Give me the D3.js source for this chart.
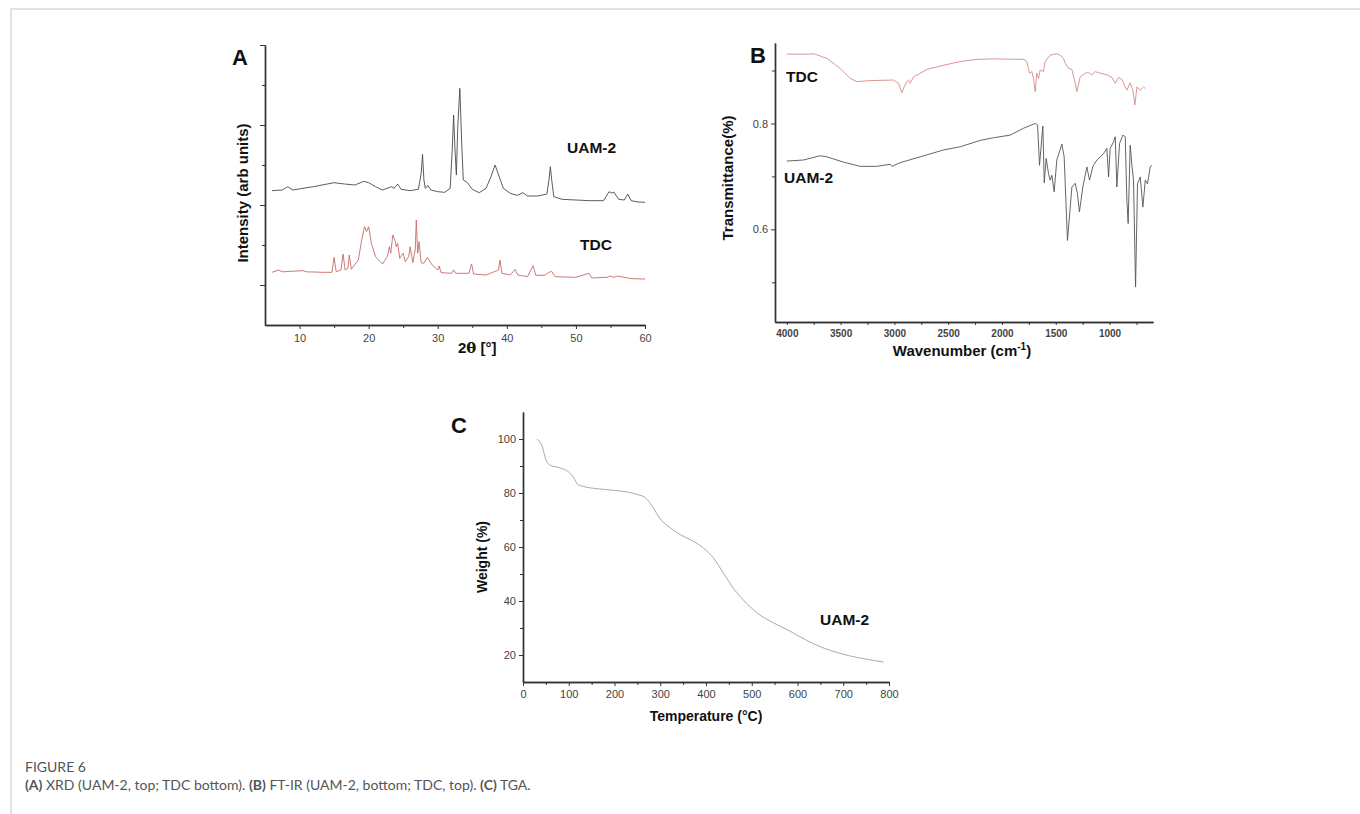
<!DOCTYPE html>
<html>
<head>
<meta charset="utf-8">
<script src="https://cdn.jsdelivr.net/npm/d3@7"></script>
<style>
  body { margin: 0; background: #fff; }
  text { font-family: "Liberation Sans", Arial, sans-serif; }
  .cap { font-family: Lato, "Open Sans", sans-serif; fill: #555; }
</style>
</head>
<body>
<div id="chart"></div>
<script>
// (A) XRD, 2theta in degrees vs intensity (arbitrary units)
const xrdUam2 = [
  [6, 3.358], [7.5, 3.375], [8.3, 3.458], [9, 3.375], [10.5, 3.417], [12, 3.458],
  [14, 3.525], [15, 3.558], [16.5, 3.525], [18, 3.5], [19.3, 3.592], [20, 3.558],
  [21, 3.458], [22, 3.375], [23.3, 3.458], [23.7, 3.417], [24.2, 3.525], [24.7, 3.392],
  [26, 3.358], [27.2, 3.392], [27.6, 3.792], [27.8, 4.267], [28.0, 3.625], [28.2, 3.417],
  [28.6, 3.483], [29, 3.375], [30, 3.333], [31, 3.317], [31.8, 3.417], [32.1, 4.375],
  [32.3, 5.25], [32.5, 4.375], [32.7, 3.75], [32.9, 4.958], [33.2, 5.917], [33.45, 4.625],
  [33.7, 3.625], [34.3, 3.558], [35, 3.392], [36, 3.308], [37, 3.417], [37.7, 3.708],
  [38.3, 4.0], [38.9, 3.708], [39.5, 3.417], [40.5, 3.292], [41.5, 3.24], [42.3, 3.308],
  [43, 3.225], [44.5, 3.225], [45.8, 3.275], [46.1, 3.625], [46.3, 3.958], [46.5, 3.625],
  [46.8, 3.208], [48, 3.142], [50, 3.125], [52, 3.108], [54, 3.108], [54.8, 3.333],
  [55.2, 3.3], [55.5, 3.32], [56.2, 3.142], [57, 3.125], [57.5, 3.275], [58, 3.108],
  [59, 3.075], [60, 3.067]
];
const xrdTdc = [
  [6, 1.317], [7, 1.375], [7.5, 1.33], [10.5, 1.358], [11, 1.33], [13.5, 1.317],
  [14.7, 1.317], [15.0, 1.692], [15.3, 1.333], [16.0, 1.375], [16.3, 1.775], [16.6, 1.375],
  [17.0, 1.417], [17.2, 1.75], [17.5, 1.392], [18.5, 1.625], [19.0, 2.125], [19.4, 2.458],
  [19.7, 2.333], [20.0, 2.458], [20.4, 2.042], [21, 1.708], [22, 1.525], [22.7, 1.708],
  [23.0, 1.958], [23.2, 1.792], [23.5, 2.25], [23.8, 2.125], [24.0, 1.958], [24.2, 2.042],
  [24.5, 1.667], [25.0, 1.792], [25.3, 1.583], [25.8, 1.708], [26.0, 1.958], [26.4, 1.558],
  [26.75, 1.9], [26.9, 2.625], [27.1, 1.792], [27.3, 2.083], [27.6, 1.558], [28.0, 1.542],
  [28.5, 1.692], [29.2, 1.5], [30.0, 1.375], [30.2, 1.475], [30.5, 1.308], [32.0, 1.292],
  [32.3, 1.375], [32.6, 1.292], [34.5, 1.292], [34.9, 1.525], [35.2, 1.275], [37, 1.25],
  [38.8, 1.375], [39.0, 1.625], [39.3, 1.292], [40.5, 1.25], [41.2, 1.392], [41.6, 1.25],
  [43, 1.208], [43.8, 1.483], [44.2, 1.242], [45.5, 1.242], [46.0, 1.308], [46.5, 1.342],
  [47, 1.208], [50, 1.192], [51.9, 1.292], [52.3, 1.175], [54.5, 1.192], [55, 1.225],
  [55.5, 1.192], [56, 1.225], [58, 1.158], [60, 1.15]
];
const xrdTicks = [10, 20, 30, 40, 50, 60];

// (B) FT-IR, wavenumber (cm-1) vs transmittance
const irTdc = [
  [4000, 0.931], [3783, 0.931], [3752, 0.932], [3628, 0.923], [3504, 0.904], [3411, 0.885],
  [3349, 0.879], [3225, 0.881], [3008, 0.882], [2962, 0.876], [2931, 0.858], [2910, 0.869],
  [2884, 0.879], [2869, 0.882], [2853, 0.876], [2822, 0.888], [2698, 0.902], [2543, 0.91],
  [2388, 0.917], [2233, 0.921], [2079, 0.922], [1800, 0.921], [1769, 0.917], [1744, 0.895],
  [1722, 0.898], [1707, 0.885], [1691, 0.86], [1676, 0.895], [1660, 0.885], [1645, 0.901],
  [1614, 0.898], [1598, 0.917], [1552, 0.929], [1490, 0.932], [1459, 0.929], [1428, 0.923],
  [1412, 0.914], [1381, 0.904], [1350, 0.902], [1319, 0.876], [1304, 0.86], [1273, 0.888],
  [1226, 0.895], [1195, 0.896], [1164, 0.892], [1133, 0.898], [1087, 0.895], [1025, 0.892],
  [978, 0.887], [947, 0.876], [916, 0.887], [885, 0.883], [864, 0.873], [839, 0.863],
  [808, 0.877], [783, 0.863], [764, 0.835], [746, 0.869], [715, 0.863], [684, 0.869],
  [668, 0.866]
];
const irUam2 = [
  [4000, 0.729], [3845, 0.731], [3690, 0.739], [3628, 0.737], [3473, 0.727], [3318, 0.719],
  [3163, 0.719], [3039, 0.723], [3023, 0.719], [2946, 0.726], [2760, 0.737], [2543, 0.75],
  [2388, 0.756], [2203, 0.768], [2079, 0.773], [1924, 0.778], [1800, 0.791], [1691, 0.8],
  [1669, 0.797], [1651, 0.721], [1620, 0.795], [1607, 0.688], [1589, 0.734], [1567, 0.705],
  [1552, 0.693], [1536, 0.702], [1515, 0.671], [1490, 0.731], [1443, 0.761], [1422, 0.737],
  [1391, 0.579], [1350, 0.68], [1319, 0.687], [1298, 0.667], [1280, 0.633], [1248, 0.68],
  [1211, 0.718], [1186, 0.693], [1155, 0.719], [1118, 0.731], [1056, 0.743], [1025, 0.753],
  [1009, 0.699], [994, 0.753], [963, 0.765], [947, 0.775], [932, 0.68], [907, 0.762],
  [876, 0.778], [854, 0.775], [839, 0.655], [827, 0.611], [808, 0.759], [792, 0.721],
  [777, 0.693], [758, 0.491], [740, 0.686], [715, 0.699], [690, 0.642], [668, 0.693],
  [647, 0.686], [622, 0.718], [604, 0.721]
];
const irTicks = [4000, 3500, 3000, 2500, 2000, 1500, 1000];
const irYTicks = [0.6, 0.8];

// (C) TGA, temperature (C) vs weight (%)
const tgaUam2 = [
  [30.6, 100], [41.5, 97.5], [51, 91.9], [59.7, 90.3], [81.5, 89.3], [99.7, 87.8],
  [110.7, 85.7], [119.4, 83.2], [132.5, 82.4], [161.6, 81.6], [198, 81], [227, 80.4],
  [249, 79.5], [267, 78.3], [282, 75.2], [300, 70.4], [322, 67.1], [343.6, 64.6],
  [372.7, 62.1], [394.6, 59.6], [416.4, 55.9], [438.3, 50.3], [460, 44.7], [489, 39.1],
  [518, 34.8], [547.5, 31.9], [583.9, 28.8], [620.3, 25.4], [656.7, 22.6], [693, 20.6],
  [729.5, 19.1], [765.9, 18], [787.7, 17.4]
];
const tgaXTicks = [0, 100, 200, 300, 400, 500, 600, 700, 800];
const tgaYTicks = [20, 40, 60, 80, 100];

let svg = d3.select("#chart").append("svg")
  .attr("width", 1360).attr("height", 814);

// page frame
svg.append("path")
  .attr("d", "M11,814V9H1360")
  .attr("fill", "none").attr("stroke", "#d8d8d8").attr("stroke-width", 1.5);

function styleAxis(g, bold, size) {
  g.select(".domain").attr("stroke", "#333").attr("stroke-width", 1.4);
  g.selectAll(".tick line").attr("stroke", "#333");
  g.selectAll(".tick text")
    .attr("fill", "#444")
    .style("font-size", size + "px")
    .style("font-weight", bold ? "bold" : "normal");
}

function label(text, x, y, size, opts = {}) {
  let t = svg.append("text")
    .attr("x", x).attr("y", y)
    .attr("text-anchor", opts.anchor || "start")
    .style("font-size", size + "px")
    .style("font-weight", "bold")
    .attr("fill", "#111")
    .text(text);
  if (opts.rotate) t.attr("transform", `rotate(-90,${x},${y})`);
  return t;
}

function drawXrd() {
  let x = d3.scaleLinear().domain([5, 60]).range([265, 645]);
  let y = d3.scaleLinear().domain([0, 7]).range([325, 45]);
  let line = d3.line().x((d) => x(d[0])).y((d) => y(d[1]));

  svg.append("g").attr("transform", "translate(0,325)")
    .call(d3.axisBottom(x).tickValues([15, 25, 35, 45, 55]).tickSize(3).tickFormat("").tickSizeOuter(0))
    .call((g) => styleAxis(g, false, 11));
  svg.append("g").attr("transform", "translate(0,325)")
    .call(d3.axisBottom(x).tickValues(xrdTicks).tickSize(4).tickPadding(5).tickSizeOuter(0))
    .call((g) => styleAxis(g, false, 11));
  svg.append("g").attr("transform", "translate(265,0)")
    .call(d3.axisLeft(y).tickValues([2, 4, 6]).tickSize(3).tickFormat("").tickSizeOuter(0))
    .call((g) => styleAxis(g, false, 11));
  svg.append("g").attr("transform", "translate(265,0)")
    .call(d3.axisLeft(y).tickValues([1, 3, 5, 7]).tickSize(5).tickFormat("").tickSizeOuter(0))
    .call((g) => styleAxis(g, false, 11));

  svg.append("path").datum(xrdUam2).attr("d", line)
    .attr("fill", "none").attr("stroke", "#4a4a4a").attr("stroke-width", 0.9);
  svg.append("path").datum(xrdTdc).attr("d", line)
    .attr("fill", "none").attr("stroke", "#c96a6a").attr("stroke-width", 0.9);

  label("A", 232, 65, 22);
  label("UAM-2", 567, 153, 15.5);
  label("TDC", 580, 250, 15.5);
  label("Intensity (arb units)", 248, 193, 15, { anchor: "middle", rotate: true });
  let t = label("2", 458, 353, 15);
  t.append("tspan").text("θ").style("font-family", "'DejaVu Serif', serif");
  t.append("tspan").text(" [°]");
}

function drawIr() {
  let x = d3.scaleLinear().domain([4110, 596]).range([775, 1153]);
  let y = d3.scaleLinear().domain([0.425, 0.952]).range([322, 43]);
  let line = d3.line().x((d) => x(d[0])).y((d) => y(d[1]));

  svg.append("g").attr("transform", "translate(0,322)")
    .call(d3.axisBottom(x).tickValues([3750, 3250, 2750, 2250, 1750, 1250, 750]).tickSize(3).tickFormat("").tickSizeOuter(0))
    .call((g) => styleAxis(g, true, 10));
  svg.append("g").attr("transform", "translate(0,322)")
    .call(d3.axisBottom(x).tickValues(irTicks).tickSize(3).tickPadding(5).tickFormat(d3.format("d")).tickSizeOuter(0))
    .call((g) => styleAxis(g, true, 10));
  svg.append("g").attr("transform", "translate(775,0)")
    .call(d3.axisLeft(y).tickValues([0.5, 0.7, 0.9]).tickSize(3).tickFormat("").tickSizeOuter(0))
    .call((g) => styleAxis(g, false, 11));
  svg.append("g").attr("transform", "translate(775,0)")
    .call(d3.axisLeft(y).tickValues(irYTicks).tickSize(4).tickPadding(3).tickFormat(d3.format(".1f")).tickSizeOuter(0))
    .call((g) => styleAxis(g, false, 11));

  svg.append("path").datum(irTdc).attr("d", line)
    .attr("fill", "none").attr("stroke", "#d68a8a").attr("stroke-width", 0.9);
  svg.append("path").datum(irUam2).attr("d", line)
    .attr("fill", "none").attr("stroke", "#555").attr("stroke-width", 0.9);

  label("B", 750, 63, 22);
  label("TDC", 786, 82, 15.5);
  label("UAM-2", 784, 183, 15.5);
  label("Transmittance(%)", 733, 178, 15, { anchor: "middle", rotate: true });
  let t = label("Wavenumber (cm", 962, 356, 15, { anchor: "middle" });
  t.append("tspan").text("-1").attr("dy", -6).style("font-size", "10px");
  t.append("tspan").text(")").attr("dy", 6);
}

function drawTga() {
  let x = d3.scaleLinear().domain([0, 800]).range([523, 889]);
  let y = d3.scaleLinear().domain([10, 110]).range([682, 412]);
  let line = d3.line().curve(d3.curveMonotoneX).x((d) => x(d[0])).y((d) => y(d[1]));

  svg.append("g").attr("transform", "translate(0,682)")
    .call(d3.axisBottom(x).tickValues(d3.range(50, 800, 100)).tickSize(3).tickFormat("").tickSizeOuter(0))
    .call((g) => styleAxis(g, false, 11));
  svg.append("g").attr("transform", "translate(0,682)")
    .call(d3.axisBottom(x).tickValues(tgaXTicks).tickSize(4).tickPadding(4).tickSizeOuter(0))
    .call((g) => styleAxis(g, false, 11));
  svg.append("g").attr("transform", "translate(523,0)")
    .call(d3.axisLeft(y).tickValues([30, 50, 70, 90]).tickSize(3).tickFormat("").tickSizeOuter(0))
    .call((g) => styleAxis(g, false, 11));
  svg.append("g").attr("transform", "translate(523,0)")
    .call(d3.axisLeft(y).tickValues(tgaYTicks).tickSize(4).tickPadding(3).tickSizeOuter(0))
    .call((g) => styleAxis(g, false, 11));

  svg.append("path").datum(tgaUam2).attr("d", line)
    .attr("fill", "none").attr("stroke", "#aaa").attr("stroke-width", 1);

  label("C", 451, 433, 22);
  label("UAM-2", 820, 625, 15.5);
  label("Weight (%)", 487, 557, 14, { anchor: "middle", rotate: true });
  label("Temperature (°C)", 706, 721, 14, { anchor: "middle" });
}

drawXrd();
drawIr();
drawTga();

// caption
svg.append("text").attr("class", "cap").attr("x", 25).attr("y", 772)
  .style("font-size", "14px").text("FIGURE 6");
let cap = svg.append("text").attr("class", "cap").attr("x", 25).attr("y", 790)
  .style("font-size", "14px");
[["(A)", true], [" XRD (UAM-2, top; TDC bottom). ", false], ["(B)", true],
 [" FT-IR (UAM-2, bottom; TDC, top). ", false], ["(C)", true], [" TGA.", false]]
  .forEach((p) => cap.append("tspan").text(p[0]).style("font-weight", p[1] ? "bold" : "normal"));
</script>
</body>
</html>
